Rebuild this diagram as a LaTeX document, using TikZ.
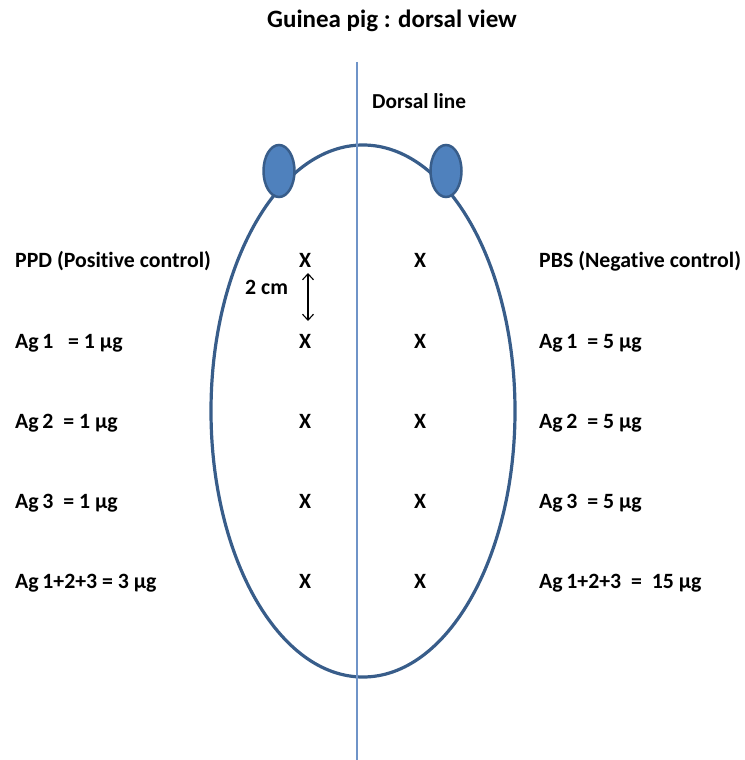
\documentclass[tikz,border=0pt]{standalone}
\usepackage{fontspec}
\setmainfont{Carlito}[Ligatures=CommonOff]
\usetikzlibrary{shapes.geometric,arrows.meta}
\definecolor{bodyline}{HTML}{385D8A}
\definecolor{earfill}{HTML}{4F81BD}
\definecolor{midline}{HTML}{6F94C8}
\tikzset{
  lbl/.style={anchor=base west,inner sep=0pt,font=\fontsize{21.8}{24}\selectfont\bfseries},
  xmark/.style={anchor=base,inner sep=0pt,font=\fontsize{21.8}{24}\selectfont\bfseries},
  ear/.style={ellipse,draw=bodyline,fill=earfill,line width=2.5pt,minimum width=31pt,minimum height=52pt,inner sep=0pt},
}
\begin{document}
\begin{tikzpicture}[x=1pt,y=-1pt]
\useasboundingbox (0,0) rectangle (744,760);
% body outline
\node[ellipse,draw=bodyline,line width=3.2pt,minimum width=304pt,minimum height=532pt,inner sep=0pt] (body) at (363,411) {};
% ears
\node[ear] (earL) at (279,171) {};
\node[ear] (earR) at (446,171) {};
% dorsal line
\coordinate (dtop) at (357,62);
\coordinate (dbot) at (357,760);
\draw[midline,line width=1.6pt] (dtop) -- (dbot);
% title
\node[anchor=base,inner sep=0pt,font=\fontsize{25}{28}\selectfont\bfseries] (title) at (392,28) {Guinea pig : dorsal view};
\node[lbl,font=\fontsize{21.3}{24}\selectfont\bfseries] (dl) at (372,108) {Dorsal line};
% left labels
\node[lbl] (l1) at (15,267) {PPD (Positive control)};
\node[lbl] (l2) at (15,348) {Ag\,1\ \ \ = 1 µg};
\node[lbl] (l3) at (15,428) {Ag\,2\ \ = 1 µg};
\node[lbl] (l4) at (15,508) {Ag\,3\ \ = 1 µg};
\node[lbl] (l5) at (15,588) {Ag\,1+2+3 = 3 µg};
% right labels
\node[lbl] (r1) at (539,267) {PBS (Negative control)};
\node[lbl] (r2) at (539,348) {Ag\,1\ \ = 5 µg};
\node[lbl] (r3) at (539,428) {Ag\,2\ \ = 5 µg};
\node[lbl] (r4) at (539,508) {Ag\,3\ \ = 5 µg};
\node[lbl] (r5) at (539,588) {Ag\,1+2+3\ \ =\ \ 15 µg};
% X marks
\foreach \i/\yy in {1/267,2/348,3/428,4/508,5/588}{
  \node[xmark] (xl\i) at (305,\yy) {X};
  \node[xmark] (xr\i) at (420,\yy) {X};
}
% 2 cm arrow
\coordinate (atop) at (308,273);
\coordinate (abot) at (308,321);
\draw[{Straight Barb[length=6pt,width=11pt]}-{Straight Barb[length=6pt,width=11pt]},line width=1.1pt] (atop) -- (abot);
\node[lbl] (cm) at (245,294) {2 cm};
\end{tikzpicture}
\end{document}
